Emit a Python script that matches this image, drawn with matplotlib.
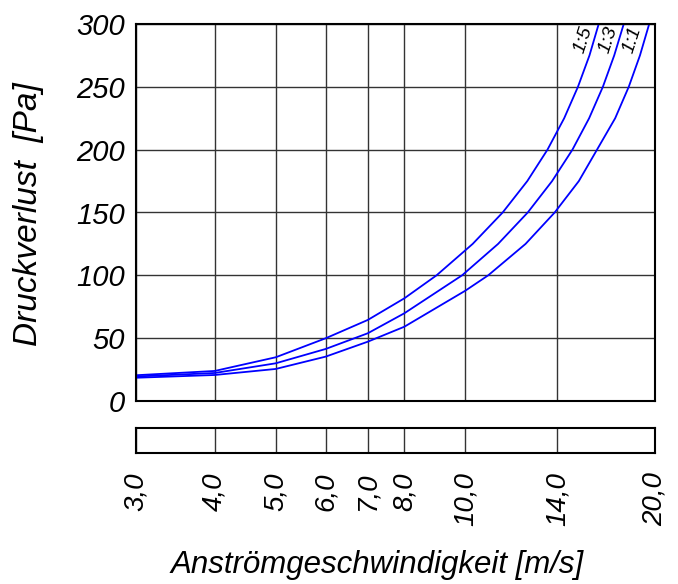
import matplotlib
matplotlib.use("Agg")
import matplotlib.pyplot as plt
from matplotlib.ticker import FixedLocator, NullLocator, NullFormatter

plt.rcParams['font.family'] = ['Liberation Sans', 'DejaVu Sans']
plt.rcParams['font.style'] = 'italic'

# Data
v_15 = [3, 4, 5, 6, 7, 8, 9.0, 10.27, 11.46, 12.54, 13.50, 14.35, 15.09, 15.74, 16.28]
p_15 = [20.5, 23.9, 34.8, 49.9, 64.5, 81.7, 100, 125, 150, 175, 200, 225, 250, 275, 300]
v_13 = [3, 4, 5, 6, 7, 8, 9.88, 11.27, 12.56, 13.73, 14.79, 15.72, 16.53, 17.23, 17.84]
p_13 = [19.5, 22.3, 30.0, 41.4, 53.9, 69.8, 100, 125, 150, 175, 200, 225, 250, 275, 300]
v_11 = [3, 4, 5, 6, 7, 8, 10, 10.87, 12.46, 13.86, 15.14, 16.18, 17.29, 18.17, 18.93, 19.58]
p_11 = [18.5, 20.7, 25.5, 35.3, 47.2, 59.1, 87.8, 100, 125, 150, 175, 200, 225, 250, 275, 300]
series_labels = ["1:5", "1:3", "1:1"]

x_ticks = [3, 4, 5, 6, 7, 8, 10, 14, 20]
x_ticklabels = ["3,0", "4,0", "5,0", "6,0", "7,0", "8,0", "10,0", "14,0", "20,0"]
y_ticks = [0, 50, 100, 150, 200, 250, 300]
y_ticklabels = ["0", "50", "100", "150", "200", "250", "300"]

W, H = 678, 584
fig = plt.figure(figsize=(W / 100, H / 100), dpi=100)

L, R = 136 / W, 655 / W
ax = fig.add_axes([L, (H - 401) / H, R - L, (401 - 24) / H])
ax2 = fig.add_axes([L, (H - 453) / H, R - L, (453 - 428) / H])

grid_kw = dict(color='#333333', lw=1.0)
for a in (ax, ax2):
    a.set_xscale('log')
    a.set_xlim(3, 20)
    a.xaxis.set_major_locator(FixedLocator(x_ticks))
    a.xaxis.set_minor_locator(NullLocator())
    a.xaxis.set_minor_formatter(NullFormatter())
    a.grid(True, axis='x', **grid_kw)
    for s in a.spines.values():
        s.set_linewidth(1.5)
        s.set_color('black')

ax.set_ylim(0, 300)
ax.set_yticks(y_ticks)
ax.set_yticklabels(y_ticklabels, fontsize=21, style='italic')
ax.grid(True, axis='y', **grid_kw)
ax.set_axisbelow(True)
ax.tick_params(axis='x', length=0, labelbottom=False)
ax.tick_params(axis='y', length=0, pad=8)

for vv, pp in ((v_15, p_15), (v_13, p_13), (v_11, p_11)):
    ax.plot(vv, pp, color='#0000ff', lw=1.3, clip_on=True,
            solid_joinstyle='round')

label_pos = [(15.37, 287.3), (16.84, 287.3), (18.42, 287.3)]
for (lx, ly), t in zip(label_pos, series_labels):
    ax.text(lx, ly, t, rotation=72, fontsize=14, style='italic',
            ha='center', va='center', rotation_mode='anchor')

ax2.set_yticks([])
ax2.set_xticklabels(x_ticklabels, rotation=90, fontsize=20, style='italic',
                    va='top', ha='center')
ax2.tick_params(axis='x', length=0, pad=14)

fig.text(377.5 / W, (H - 565) / H, "Anströmgeschwindigkeit [m/s]",
         fontsize=22.5, style='italic', ha='center', va='center')
fig.text(29 / W, (H - 214) / H, "Druckverlust  [Pa]", rotation=90,
         fontsize=24, style='italic', ha='center', va='center')

fig.savefig("out.png", dpi=100)
